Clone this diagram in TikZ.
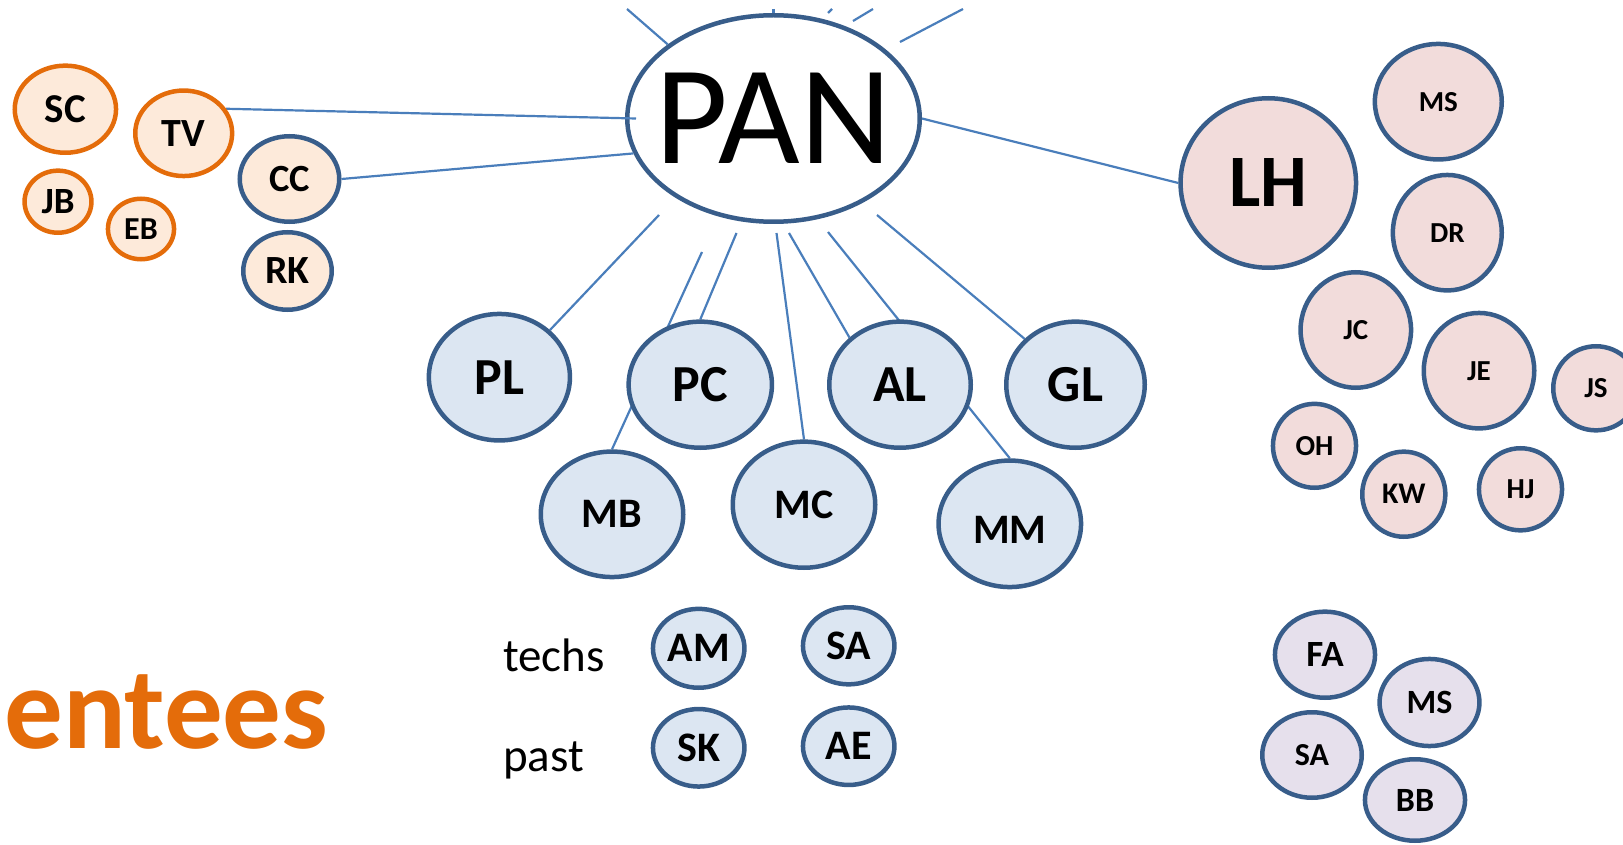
\documentclass[tikz,border=0pt]{standalone}
\usepackage{fontspec}
\setmainfont{Carlito}
\usetikzlibrary{shapes.geometric}

\definecolor{edgeblue}{HTML}{4A7EBB}
\definecolor{ringblue}{HTML}{385D8A}
\definecolor{ringorange}{HTML}{E46C0A}
\definecolor{fillblue}{HTML}{DCE6F2}
\definecolor{fillpeach}{HTML}{FDEADA}
\definecolor{fillpink}{HTML}{F2DCDB}
\definecolor{filllav}{HTML}{E6E0EC}
\definecolor{textorange}{HTML}{E46C0A}

\pgfdeclarelayer{panlayer}
\pgfdeclarelayer{edges}
\pgfsetlayers{panlayer,edges,main}

\tikzset{
  bub/.style={ellipse, draw=ringblue, line width=4.5pt, inner sep=0pt, text=black},
  orng/.style={bub, draw=ringorange, fill=fillpeach},
  peach/.style={bub, fill=fillpeach},
  blu/.style={bub, fill=fillblue},
  pnk/.style={bub, fill=fillpink},
  lav/.style={bub, fill=filllav},
  dims/.style 2 args={minimum width=#1pt, minimum height=#2pt},
  lbl/.style={font=\fontsize{#1}{#1}\selectfont\bfseries},
  link/.style={draw=edgeblue, line width=2.2pt},
  plain/.style={anchor=base west, inner sep=0pt, font=\fontsize{47}{47}\selectfont},
}

\begin{document}
\begin{tikzpicture}[x=1pt,y=-1pt]
\useasboundingbox (0,0) rectangle (1623,845);

% central hub
\begin{pgfonlayer}{panlayer}
\node[bub, fill=white, dims={292.5}{206.5}, font=\fontsize{141}{141}\selectfont] (PAN) at (773.5,118.5) {\makebox[0pt]{PAN}};
\end{pgfonlayer}

\begin{scope}
\clip (0,0) rectangle (1623,845);

% left cluster
\node[orng, dims={101.3}{87.1}, lbl=41] (SC) at (65.4,109.2) {SC};
\node[orng, dims={96.9}{85.5}, lbl=40] (TV) at (183.7,133.3) {TV};
\node[orng, dims={66.9}{62.1}, lbl=37] (JB) at (58,201.7) {JB};
\node[orng, dims={66.1}{60.5}, lbl=32] (EB) at (141,229) {EB};
\node[peach, dims={99.5}{85.5}, lbl=38.5] (CC) at (289.5,179) {CC};
\node[peach, dims={88.5}{77.5}, lbl=40] (RK) at (287.5,271) {RK};

% group below the hub
\node[blu, dims={141.1}{126.5}, lbl=52] (PL) at (499.4,377.2) {PL};
\node[blu, dims={143.3}{126.1}, lbl=52] (PC) at (700.3,384.7) {PC};
\node[blu, dims={141.5}{126.1}, lbl=52] (AL) at (900,384.7) {AL};
\node[blu, dims={138.5}{126.1}, lbl=52] (GL) at (1075.5,384.7) {GL};
\node[blu, dims={142.5}{125.5}, lbl=42] (MB) at (612,514.3) {MB};
\node[blu, dims={142.5}{126.1}, lbl=42] (MC) at (804,504.7) {MC};
\node[blu, dims={142.5}{126.5}, lbl=42] (MM) at (1009.8,523.8) {\raisebox{-6pt}[\height][0pt]{MM}};

% techs and past
\node[plain] (techs) at (503,671) {techs};
\node[plain] (past) at (503,771) {past};
\node[blu, dims={91.5}{78.9}, lbl=42] (AM) at (698.7,648.3) {AM};
\node[blu, dims={91.5}{77.1}, lbl=42] (SA) at (848.7,645.8) {SA};
\node[blu, dims={91.5}{77.5}, lbl=42] (SK) at (698.7,747.8) {SK};
\node[blu, dims={91.5}{77.5}, lbl=42] (AE) at (848.7,746.2) {AE};

% right cluster
\node[pnk, dims={175.5}{169.5}, lbl=74] (LH) at (1268.3,183) {LH};
\node[pnk, dims={126.9}{115.5}, lbl=29] (MS) at (1438.3,101.7) {MS};
\node[pnk, dims={108.9}{115.5}, lbl=29] (DR) at (1447.3,232.7) {DR};
\node[pnk, dims={110.5}{115.5}, lbl=29] (JC) at (1355.8,330) {JC};
\node[pnk, dims={110.5}{115.5}, lbl=29] (JE) at (1479,370.7) {JE};
\node[pnk, dims={85.5}{84.1}, lbl=29] (JS) at (1596,388.3) {JS};
\node[pnk, dims={83.1}{83.9}, lbl=29] (OH) at (1314.5,445.8) {OH};
\node[pnk, dims={83.1}{85.1}, lbl=30] (KW) at (1403.8,494.2) {KW};
\node[pnk, dims={83.1}{82.1}, lbl=29] (HJ) at (1520.5,489.3) {HJ};

% bottom right cluster
\node[lav, dims={100.1}{86.1}, lbl=37] (FA) at (1325,654.7) {FA};
\node[lav, dims={99.9}{87.1}, lbl=34] (MS2) at (1429.5,702.5) {MS};
\node[lav, dims={99.5}{85.5}, lbl=32] (SA2) at (1312,755) {SA};
\node[lav, dims={100.1}{81.5}, lbl=34] (BB) at (1415,800) {BB};

% heading fragment
\node[anchor=base west, inner sep=0pt, text=textorange, font=\fontsize{117}{117}\selectfont\bfseries] (entees) at (4,748) {entees};
\end{scope}

% connectors
\begin{pgfonlayer}{edges}
\coordinate (t1) at (627,9);
\coordinate (t2) at (773.5,9);
\coordinate (t3a) at (832,9);
\coordinate (t3b) at (828,13);
\coordinate (t4a) at (873,9);
\coordinate (t4b) at (853,21);
\coordinate (t5a) at (963,9);
\coordinate (t5b) at (900,42);
\coordinate (sPL) at (659,215);
\coordinate (sMB) at (702,252);
\coordinate (sPC) at (736.5,233);
\coordinate (sMC) at (776.5,233);
\coordinate (sAL) at (789,233);
\coordinate (sMM) at (828,232);
\coordinate (sGL) at (877,215);

\draw[link] (t1) -- (PAN.145);
\draw[link] (t2) -- (PAN.north);
\draw[link] (t3a) -- (t3b);
\draw[link] (t4a) -- (t4b);
\draw[link] (t5a) -- (t5b);

\draw[link] (TV.30) -- ([xshift=11pt]PAN.west);
\draw[link] (CC.east) -- (PAN.194);
\draw[link] (PAN.east) -- (LH.west);

\draw[link] (sPL) -- (PL.43);
\draw[link] (sMB) -- (MB.north);
\draw[link] (sPC) -- (PC.north);
\draw[link] (sMC) -- (MC.north);
\draw[link] (sAL) -- (AL.137);
\draw[link] (sMM) -- (MM.north);
\draw[link] (sGL) -- (GL.138);
\end{pgfonlayer}
\end{tikzpicture}
\end{document}
